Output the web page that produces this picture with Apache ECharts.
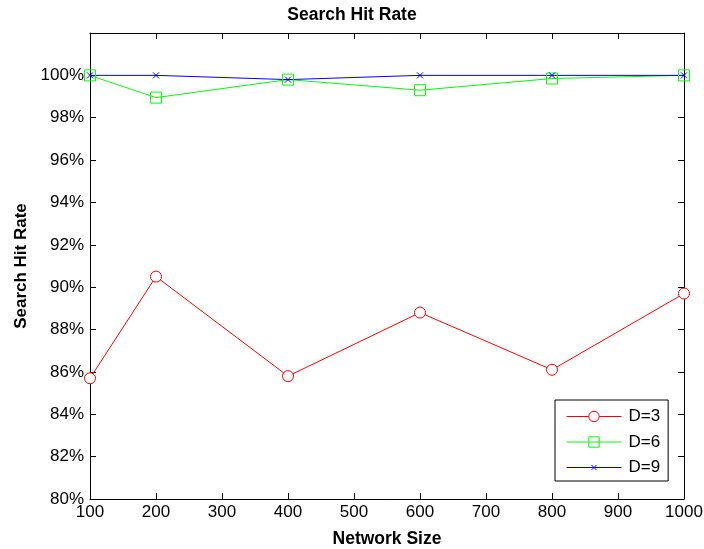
<!DOCTYPE html>
<html>
<head>
<meta charset="utf-8">
<script src="https://cdn.jsdelivr.net/npm/echarts@6/dist/echarts.min.js"></script>
<style>
  html, body { margin: 0; padding: 0; background: #fff; }
  #chart { width: 704px; height: 549px; }
</style>
</head>
<body>
<div id="chart"></div>
<script>
// Network sizes on the x axis
const networkSizes = [100, 200, 400, 600, 800, 1000];
// Search hit rate (%) for each depth setting
const hitD3 = [85.7, 90.5, 85.8, 88.8, 86.1, 89.7];
const hitD6 = [100, 98.95, 99.8, 99.3, 99.85, 100];
const hitD9 = [100, 100, 99.8, 100, 100, 100];
const seriesNames = ['D=3', 'D=6', 'D=9'];

const font = 'Liberation Sans, Arial, sans-serif';
// small "x" marker, padded inside a larger box so it stays small in the legend too
const crossPath = 'path://M0,0M12,12M3,3L9,9M9,3L3,9';

function pairs(vals) {
  return networkSizes.map((x, i) => [x, vals[i]]);
}

const axisCommon = {
  axisLine: { show: true, lineStyle: { color: '#000', width: 1 } },
  axisTick: { show: true, inside: true, length: 6, lineStyle: { color: '#000', width: 1 } },
  splitLine: { show: false }
};

const chart = echarts.init(document.getElementById('chart'));
chart.setOption({
  animation: false,
  backgroundColor: '#fff',
  title: {
    text: 'Search Hit Rate',
    left: 'center',
    top: 1,
    textStyle: { fontFamily: font, fontSize: 17.5, fontWeight: 'bold', color: '#000' }
  },
  grid: { left: 90, right: 20, top: 33, bottom: 50, containLabel: false, outerBoundsMode: 'none' },
  xAxis: [
    Object.assign({
      type: 'value', min: 100, max: 1000, interval: 100, position: 'bottom',
      name: 'Network Size', nameLocation: 'middle', nameGap: 31,
      nameTextStyle: { fontFamily: font, fontSize: 17.5, fontWeight: 'bold', color: '#000' },
      axisLabel: { fontFamily: font, fontSize: 17, color: '#000', margin: 5, formatter: v => String(v) }
    }, axisCommon),
    Object.assign({
      type: 'value', min: 100, max: 1000, interval: 100, position: 'top',
      axisLabel: { show: false }
    }, axisCommon)
  ],
  yAxis: [
    Object.assign({
      type: 'value', min: 80, max: 102, interval: 2, position: 'left',
      name: 'Search Hit Rate', nameLocation: 'middle', nameGap: 60,
      nameTextStyle: { fontFamily: font, fontSize: 17, fontWeight: 'bold', color: '#000' },
      axisLabel: {
        fontFamily: font, fontSize: 17, color: '#000', margin: 6,
        formatter: v => (v > 100 ? '' : v + '%')
      }
    }, axisCommon),
    Object.assign({
      type: 'value', min: 80, max: 102, interval: 2, position: 'right',
      axisLabel: { show: false }
    }, axisCommon)
  ],
  legend: {
    orient: 'vertical',
    left: 555,
    top: 400,
    itemWidth: 55,
    itemHeight: 13,
    itemGap: 8.5,
    padding: [8, 8, 5, 11],
    backgroundColor: '#fff',
    borderColor: '#000',
    borderWidth: 1,
    borderRadius: 0,
    lineStyle: { width: 1 },
    itemStyle: { borderWidth: 1 },
    textStyle: { fontFamily: font, fontSize: 17, color: '#000', padding: [0, 0, 0, 2] },
    data: seriesNames
  },
  series: [
    {
      name: seriesNames[0], type: 'line', data: pairs(hitD3),
      symbol: 'circle', symbolSize: 11,
      lineStyle: { color: '#ff0000', width: 1 },
      itemStyle: { color: '#fff', borderColor: '#ff0000', borderWidth: 1 }
    },
    {
      name: seriesNames[1], type: 'line', data: pairs(hitD6),
      symbol: 'rect', symbolSize: 11,
      lineStyle: { color: '#00ff00', width: 1 },
      itemStyle: { color: 'rgba(255,255,255,0)', borderColor: '#00ff00', borderWidth: 1 }
    },
    {
      name: seriesNames[2], type: 'line', data: pairs(hitD9),
      symbol: crossPath, symbolSize: 12,
      lineStyle: { color: '#0000ff', width: 1 },
      itemStyle: { color: 'rgba(0,0,0,0)', borderColor: '#0000ff', borderWidth: 1 }
    }
  ]
});
</script>
</body>
</html>
